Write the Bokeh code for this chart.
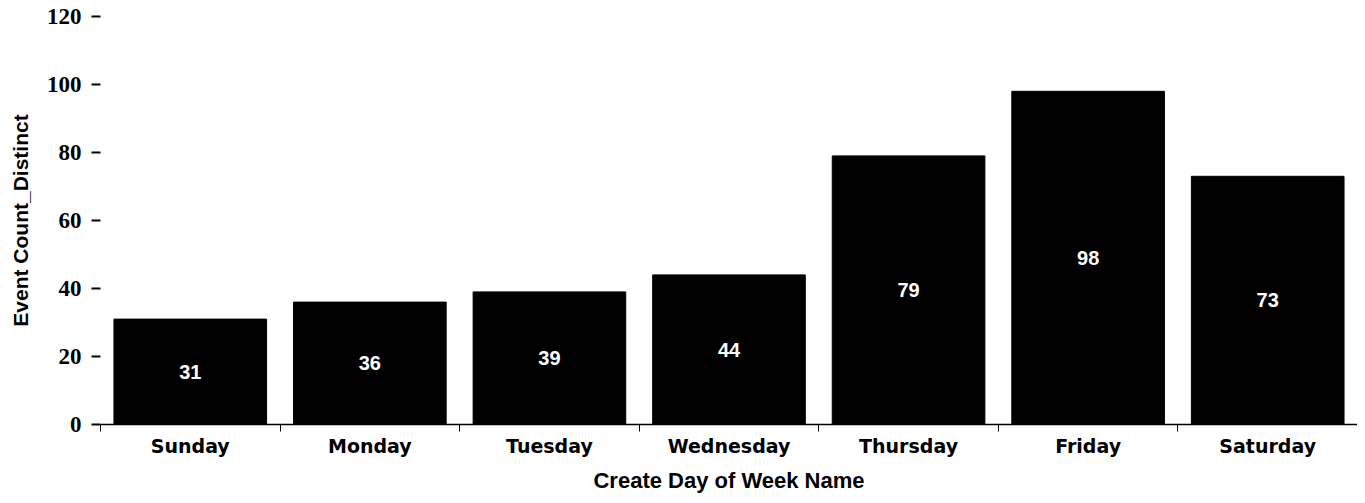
from bokeh.plotting import figure
from bokeh.models import ColumnDataSource, Range1d, FixedTicker
from bokeh.core.properties import value
from bokeh.embed import file_html
from bokeh.resources import INLINE

days = ["Sunday", "Monday", "Tuesday", "Wednesday", "Thursday", "Friday", "Saturday"]
counts = [31, 36, 39, 44, 79, 98, 73]
y_ticks = [0, 20, 40, 60, 80, 100, 120]
x_title = "Create Day of Week Name"
y_title = "Event Count_Distinct"

xs = [i + 0.5 for i in range(len(days))]
src = ColumnDataSource(dict(
    x=xs,
    top=counts,
    mid=[c / 2 for c in counts],
    label=[str(c) for c in counts],
))

p = figure(
    width=1357, height=495,
    x_range=Range1d(0, len(days)), y_range=Range1d(y_ticks[0], y_ticks[-1]),
    output_backend="svg", toolbar_location=None,
    min_border_left=100, min_border_right=0, min_border_top=16, min_border_bottom=70,
)
p.outline_line_color = None
p.grid.visible = False
p.background_fill_color = "white"

p.vbar(x="x", top="top", bottom=0, width=0.85, source=src,
       fill_color="black", line_color="black")
p.text(x="x", y="mid", text="label", source=src,
       text_color="white", text_align="center", text_baseline="middle",
       text_font=value("Liberation Sans Narrow, Liberation Sans"),
       text_font_style="bold", text_font_size="20px")

# x axis
xa = p.xaxis[0]
xa.ticker = FixedTicker(ticks=xs, minor_ticks=list(range(len(days) + 1)))
xa.major_label_overrides = {x: d for x, d in zip(xs, days)}
xa.major_tick_out = 0
xa.major_tick_in = 0
xa.minor_tick_out = 7
xa.minor_tick_in = 0
xa.minor_tick_line_color = "black"
xa.axis_line_color = "black"
xa.axis_line_width = 1.5
xa.major_label_standoff = 3
xa.major_label_text_font = "DejaVu Sans"
xa.major_label_text_font_style = "bold"
xa.major_label_text_font_size = "19px"
xa.major_label_text_color = "black"
xa.axis_label = x_title
xa.axis_label_text_font = "Liberation Sans"
xa.axis_label_text_font_style = "bold"
xa.axis_label_text_font_size = "22px"
xa.axis_label_text_color = "black"
xa.axis_label_standoff = 8

# y axis
ya = p.yaxis[0]
ya.ticker = FixedTicker(ticks=y_ticks)
ya.axis_line_color = None
ya.major_tick_out = 9
ya.major_tick_in = 0
ya.major_tick_line_width = 2
ya.major_tick_line_color = "black"
ya.minor_tick_line_color = None
ya.major_label_standoff = 10
ya.major_label_text_font = "Liberation Serif"
ya.major_label_text_font_style = "bold"
ya.major_label_text_font_size = "23px"
ya.major_label_text_color = "black"
ya.axis_label = y_title
ya.axis_label_text_font = "Liberation Sans"
ya.axis_label_text_font_style = "bold"
ya.axis_label_text_font_size = "21px"
ya.axis_label_text_color = "black"
ya.axis_label_standoff = 12

open("out.html", "w").write(file_html(p, INLINE))
